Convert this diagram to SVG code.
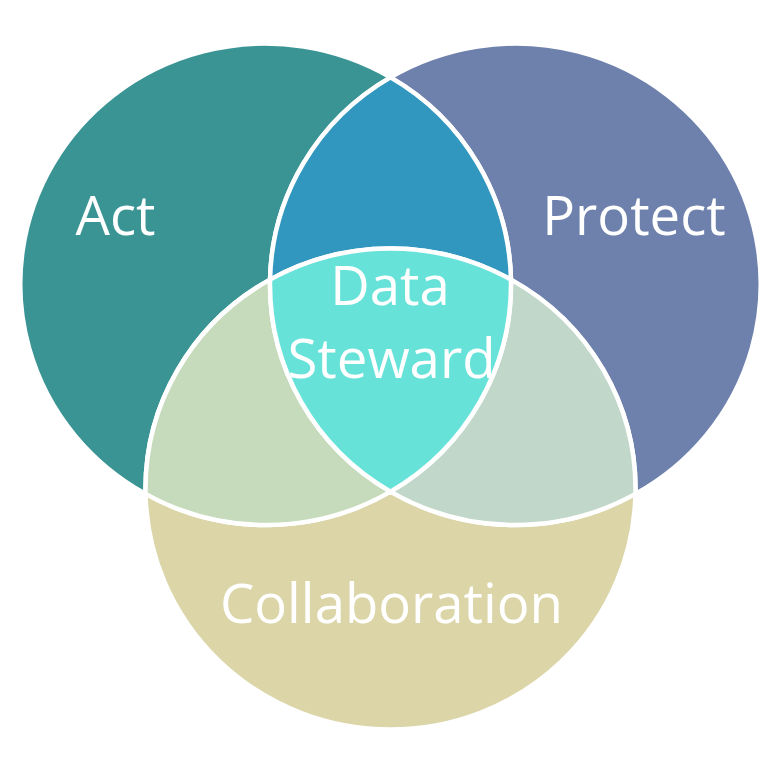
<svg xmlns="http://www.w3.org/2000/svg" width="778" height="778" viewBox="0 0 778 778">
<style>
.region{stroke:#ffffff;stroke-width:4.5;stroke-linejoin:round}
.label{font-family:"Open Sans","Liberation Sans",sans-serif;font-size:54.5px;fill:#ffffff;text-anchor:middle}
</style>
<rect width="778" height="778" fill="#ffffff"/>
<g id="act">
<path class="region" fill="#3a9494" d="M390.5 77.36 A245 240.5 0 1 0 145.55 493.9 A245 240.5 0 0 1 270.05 279.6 A245 240.5 0 0 1 390.5 77.36 Z"/>
<text class="label" x="115.5" y="235">Act</text>
</g>
<g id="protect">
<path class="region" fill="#6e80ac" d="M390.5 77.36 A245 240.5 0 1 1 635.45 493.9 A245 240.5 0 0 0 510.95 279.6 A245 240.5 0 0 0 390.5 77.36 Z"/>
<text class="label" x="634" y="235">Protect</text>
</g>
<g id="collaboration">
<path class="region" fill="#dbd5a8" d="M145.55 493.9 A245 240.5 0 0 0 635.45 493.9 A245 240.5 0 0 1 390.5 491.63 A245 240.5 0 0 1 145.55 493.9 Z"/>
<text class="label" x="391.5" y="623">Collaboration</text>
</g>
<g id="act-protect">
<path class="region" fill="#3297bf" d="M390.5 77.36 A245 240.5 0 0 1 510.95 279.6 A245 240.5 0 0 0 270.05 279.6 A245 240.5 0 0 1 390.5 77.36 Z"/>
</g>
<g id="act-collaboration">
<path class="region" fill="#c6dbbb" d="M270.05 279.6 A245 240.5 0 0 0 145.55 493.9 A245 240.5 0 0 0 390.5 491.63 A245 240.5 0 0 1 270.05 279.6 Z"/>
</g>
<g id="protect-collaboration">
<path class="region" fill="#c0d7c9" d="M510.95 279.6 A245 240.5 0 0 1 635.45 493.9 A245 240.5 0 0 1 390.5 491.63 A245 240.5 0 0 0 510.95 279.6 Z"/>
</g>
<g id="data-steward">
<path class="region" fill="#67e2d9" d="M270.05 279.6 A245 240.5 0 0 1 510.95 279.6 A245 240.5 0 0 1 390.5 491.63 A245 240.5 0 0 1 270.05 279.6 Z"/>
<text class="label" x="390" y="305">Data</text>
<text class="label" x="391.5" y="378">Steward</text>
</g>
<g id="connectors"></g>
</svg>
